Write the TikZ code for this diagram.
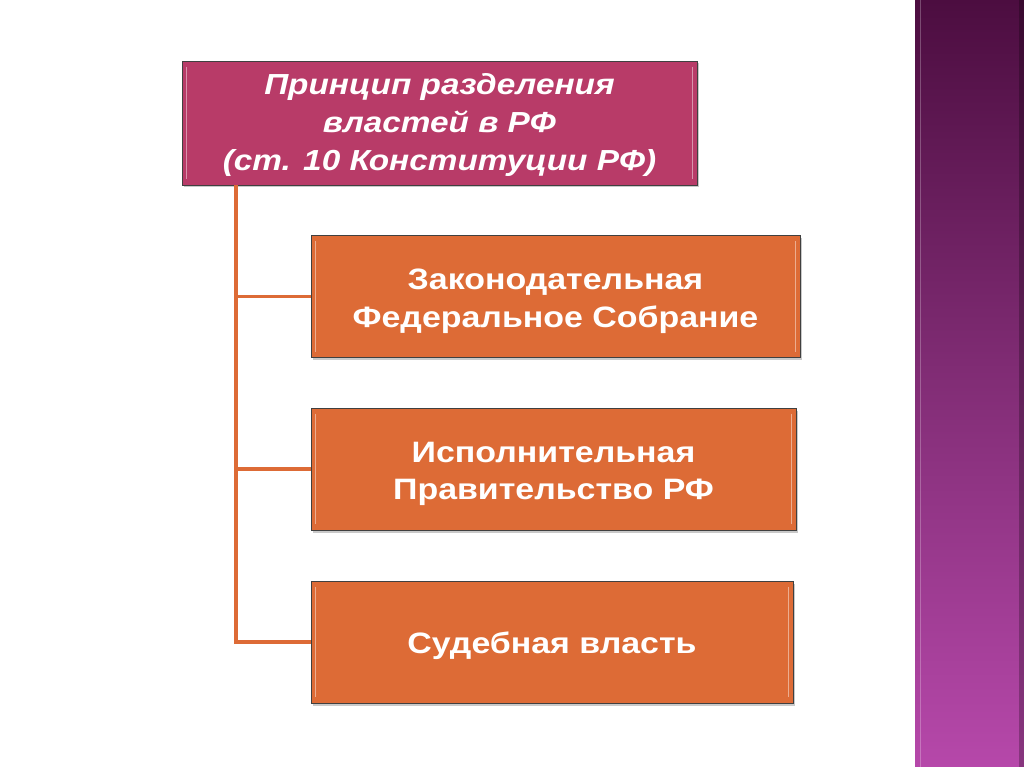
\documentclass[tikz,border=0pt]{standalone}
\usepackage{fontspec}
\setmainfont{Liberation Sans}
\newfontfamily\boxfont[FakeStretch=1.15]{Liberation Sans}
\usetikzlibrary{shadows}
\definecolor{rasp}{RGB}{184,59,104}
\definecolor{orng}{RGB}{221,107,54}
\definecolor{ptop}{RGB}{76,13,64}
\definecolor{pmid}{RGB}{130,45,118}
\definecolor{pbot}{RGB}{182,72,170}
\begin{document}
\begin{tikzpicture}[x=1pt,y=-1pt,
  box/.style={draw=black!75,line width=0.8pt,inner sep=0pt,
    drop shadow={shadow xshift=1.5pt,shadow yshift=-2.5pt,opacity=0.35,fill=black!60}},
  titlebox/.style={box,fill=rasp},
  branchbox/.style={box,fill=orng},
  boxtext/.style={text=white,align=center,inner sep=0pt,
    font=\boxfont\bfseries\fontsize{29.5}{37.5}\selectfont},
  titletext/.style={boxtext,font=\boxfont\bfseries\itshape\fontsize{29}{38}\selectfont},
  hl/.style={white,opacity=0.45,line width=1.2pt},
  conn/.style={orng,line width=3.5pt}]
\useasboundingbox (0,0) rectangle (1024,767);
\fill[white] (0,0) rectangle (1024,767);
% purple strip
\shade[top color=ptop,bottom color=pbot,middle color=pmid] (915,0) rectangle (1024,767);
\fill[black,opacity=0.25] (1019,0) rectangle (1024,767);
\draw[white,opacity=0.25,line width=1pt] (920,0) -- (920,767);

\node[titlebox,minimum width=515pt,minimum height=124pt] (top) at (439.5,123) {};
\node[branchbox,minimum width=489pt,minimum height=122pt] (b2) at (555.5,296.5) {};
\node[branchbox,minimum width=485pt,minimum height=122pt] (b3) at (553.5,469) {};
\node[branchbox,minimum width=482pt,minimum height=122pt] (b4) at (552,642) {};

\node[titletext] (ttop) at ([yshift=-2pt]top.center)
  {Принцип разделения\\властей в РФ\\(ст. 10 Конституции РФ)};
\node[boxtext] (t2) at ([yshift=-5pt]b2.center) {Законодательная\\Федеральное Собрание};
\node[boxtext] (t3) at ([yshift=-5pt]b3.center) {Исполнительная\\Правительство РФ};
\node[boxtext] (t4) at ([yshift=-4pt]b4.center) {Судебная власть};

\foreach \n in {top,b2,b3,b4}{
  \draw[hl] ([xshift=5pt,yshift=-6pt]\n.north west) -- ([xshift=5pt,yshift=6pt]\n.south west);
  \draw[hl] ([xshift=-5pt,yshift=-6pt]\n.north east) -- ([xshift=-5pt,yshift=6pt]\n.south east);
}

\coordinate (sp) at (236,0);
\draw[conn] (top.south -| sp) |- (b4.west);
\draw[conn] (b2.west -| sp) -- (b2.west);
\draw[conn] (b3.west -| sp) -- (b3.west);
\end{tikzpicture}
\end{document}
